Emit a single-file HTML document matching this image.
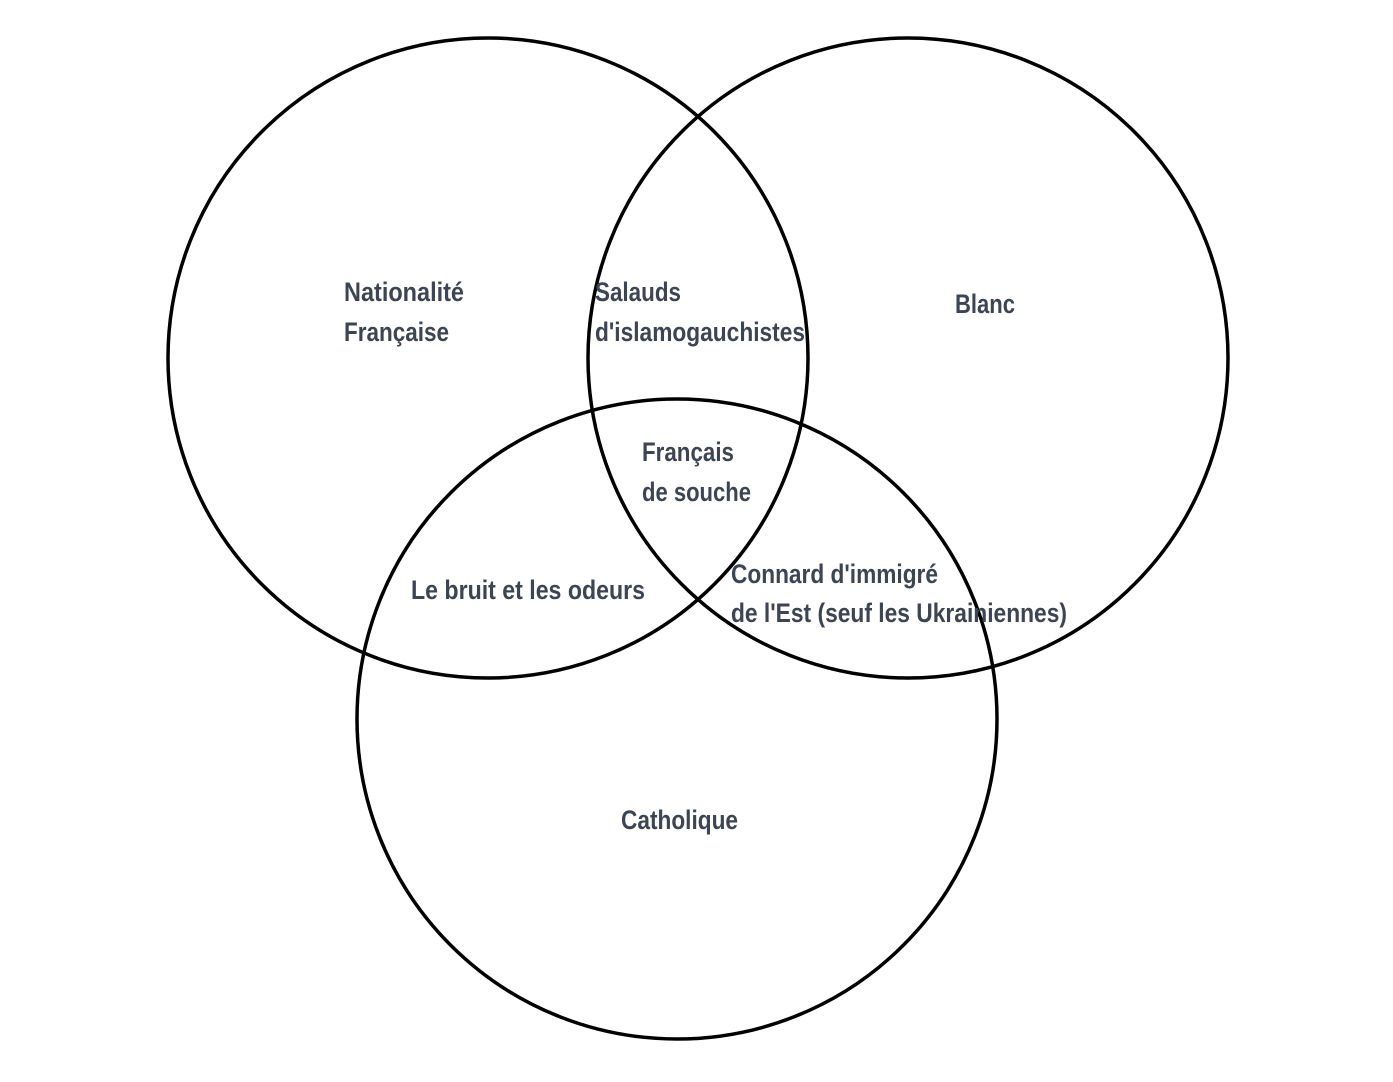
<!DOCTYPE html>
<html><head><meta charset="utf-8"><style>
html,body{margin:0;padding:0;background:#fff;}
svg text{font-family:"Liberation Sans",sans-serif;font-size:27px;font-weight:bold;fill:#3d4552;}
</style></head><body>
<svg width="1393" height="1077" viewBox="0 0 1393 1077" xmlns="http://www.w3.org/2000/svg">
<rect width="1393" height="1077" fill="#fff"/>
<g fill="none" stroke="#000" stroke-width="3.5">
<circle cx="488" cy="358" r="320"/>
<circle cx="908" cy="358" r="320"/>
<circle cx="677" cy="719" r="320"/>
</g>
<g lengthAdjust="spacingAndGlyphs">
<text x="344" y="301" textLength="120" lengthAdjust="spacingAndGlyphs">Nationalité</text>
<text x="344" y="341" textLength="105" lengthAdjust="spacingAndGlyphs">Française</text>
<text x="595" y="301" textLength="86" lengthAdjust="spacingAndGlyphs">Salauds</text>
<text x="595" y="341" textLength="210" lengthAdjust="spacingAndGlyphs">d'islamogauchistes</text>
<text x="955" y="313" textLength="60" lengthAdjust="spacingAndGlyphs">Blanc</text>
<text x="642" y="461" textLength="92" lengthAdjust="spacingAndGlyphs">Français</text>
<text x="642" y="501" textLength="109" lengthAdjust="spacingAndGlyphs">de souche</text>
<text x="411" y="599" textLength="234" lengthAdjust="spacingAndGlyphs">Le bruit et les odeurs</text>
<text x="731" y="583" textLength="207" lengthAdjust="spacingAndGlyphs">Connard d'immigré</text>
<text x="731" y="622" textLength="336" lengthAdjust="spacingAndGlyphs">de l'Est (seuf les Ukrainiennes)</text>
<text x="621" y="829" textLength="117" lengthAdjust="spacingAndGlyphs">Catholique</text>
</g>
</svg>
</body></html>
